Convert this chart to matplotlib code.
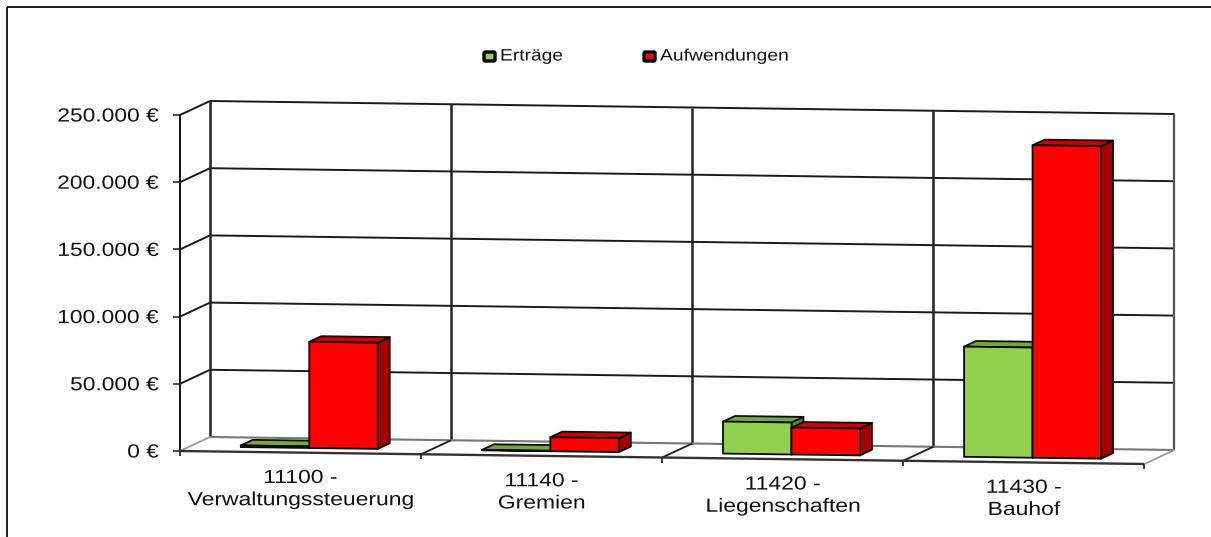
#!/usr/bin/env python3
"""Ertraege/Aufwendungen je Produkt, nachgebaut als 3D-Saeulen (Excel-Optik)."""
import numpy as np
import matplotlib
matplotlib.use("Agg")
import matplotlib.pyplot as plt
from matplotlib.patches import Polygon, FancyBboxPatch
from matplotlib.patheffects import AbstractPathEffect
from matplotlib.transforms import Affine2D

plt.rcParams["font.family"] = ["Liberation Sans", "DejaVu Sans"]

W, H = 1211, 537
KATEGORIEN = ["11100 -\nVerwaltungssteuerung", "11140 -\nGremien",
              "11420 -\nLiegenschaften", "11430 -\nBauhof"]
ERTRAEGE = [1200, 300, 23800, 82000]
AUFWENDUNGEN = [79000, 10400, 20000, 232500]
Y_TICKS = [0, 50000, 100000, 150000, 200000, 250000]
Y_LABELS = ["0 €", "50.000 €", "100.000 €", "150.000 €", "200.000 €", "250.000 €"]

GRUEN = ("#92D050", "#76A83C", "#5E8A2E")   # vorn, oben, seite
ROT = ("#FF0000", "#CC0000", "#A60000")


def proj(c, v, d=0.0):
    # Kategorie, Euro, Tiefe (0 vorn, 1 hinten) -> Pixel
    return (180 + 241.1 * c + 30 * d, 451 + 3.25 * c - 336 / 250000 * v - 14 * d)


class BreitZiehen(AbstractPathEffect):
    # Vorlage ist horizontal gestreckt, Text also um den Ankerpunkt breiter ziehen
    def __init__(self, cx, sx):
        super().__init__()
        self.cx, self.sx = cx, sx

    def draw_path(self, renderer, gc, tpath, affine, rgbFace=None):
        t = affine + Affine2D().translate(-self.cx, 0).scale(self.sx, 1).translate(self.cx, 0)
        renderer.draw_path(gc, tpath, t, rgbFace)


fig = plt.figure(figsize=(W / 100, H / 100), dpi=100)
ax = fig.add_axes([0, 0, 1, 1])
ax.set_xlim(0, W)
ax.set_ylim(H, 0)
ax.axis("off")


def linie(p, q, color="#1a1a1a", lw=1.2, z=1):
    ax.plot([p[0], q[0]], [p[1], q[1]], color=color, lw=lw, zorder=z, solid_capstyle="butt")


def text(x, y, s, px, sx, ha="center"):
    ax.text(x, y, s, fontsize=px * 0.72, ha=ha, va="center", color="#111111", zorder=10,
            linespacing=1.4, path_effects=[BreitZiehen(x, sx)])


# Rahmen (nur oben und links)
linie((7, 7), (W, 7), lw=1.4)
linie((7, 7), (7, H), lw=1.4)

# Gitter: Seitenwand + Rueckwand
n = len(KATEGORIEN)
for v in Y_TICKS[1:]:
    linie(proj(0, v), proj(0, v, 1), lw=1.4)
    linie(proj(0, v, 1), proj(n, v, 1), lw=1.4)
    linie((proj(0, v)[0] - 7, proj(0, v)[1]), proj(0, v), lw=1.1)
for c in range(n):
    linie(proj(c, 0, 1), proj(c, 250000, 1), color="#222222", lw=1.8)
linie(proj(n, 0, 1), proj(n, 250000, 1), color="#555555", lw=1.6)
linie(proj(0, 0), proj(0, 250000), lw=1.5)

# Boden
linie(proj(0, 0, 1), proj(n, 0, 1), color="#777777", lw=1.5)
linie(proj(0, 0), proj(0, 0, 1), color="#999999", lw=1.3)
linie(proj(n, 0), proj(n, 0, 1), color="#999999", lw=1.3)
for c in range(1, n):
    linie(proj(c, 0), proj(c, 0, 1), lw=1.3)
linie(proj(0, 0), proj(n, 0), color="#333333", lw=1.7, z=1)
linie((proj(0, 0)[0] - 7, proj(0, 0)[1]), proj(0, 0), lw=1.1)
for c in range(n + 1):
    x0, y0 = proj(c, 0)
    linie((x0, y0), (x0, y0 + 5), lw=1.2)


def saeule(c0, c1, v, farben):
    d0, d1 = 0.33, 0.73
    kw = dict(edgecolor="#0a0a0a", linewidth=1.3, joinstyle="round", zorder=3)
    vorn = [proj(c0, 0, d0), proj(c1, 0, d0), proj(c1, v, d0), proj(c0, v, d0)]
    oben = [proj(c0, v, d0), proj(c1, v, d0), proj(c1, v, d1), proj(c0, v, d1)]
    seite = [proj(c1, 0, d0), proj(c1, 0, d1), proj(c1, v, d1), proj(c1, v, d0)]
    ax.add_patch(Polygon(seite, facecolor=farben[2], **kw))
    ax.add_patch(Polygon(oben, facecolor=farben[1], **kw))
    ax.add_patch(Polygon(vorn, facecolor=farben[0], **kw))


breite = 0.284
for i in range(n):
    saeule(i + 0.495 - breite, i + 0.495, ERTRAEGE[i], GRUEN)
    saeule(i + 0.495, i + 0.495 + breite, AUFWENDUNGEN[i], ROT)

# Beschriftung
for v, lab in zip(Y_TICKS, Y_LABELS):
    text(159, proj(0, v)[1] + 2, lab, 19, 1.2, ha="right")
for i, lab in enumerate(KATEGORIEN):
    x0, y0 = proj(i + 0.5, 0)
    text(x0, y0 + 37, lab, 19, 1.205)

# Legende
for x0, farbe, lab, breit in [(484, GRUEN[0], "Erträge", 1.165), (644, ROT[0], "Aufwendungen", 1.17)]:
    ax.add_patch(FancyBboxPatch((x0, 52), 11, 9, boxstyle="round,pad=0,rounding_size=1.2",
                                facecolor=farbe, edgecolor="black", lw=2.4, zorder=5))
    text(x0 + 16, 56, lab, 16.5, breit, ha="left")

fig.savefig("out.png", dpi=100, facecolor="white")
